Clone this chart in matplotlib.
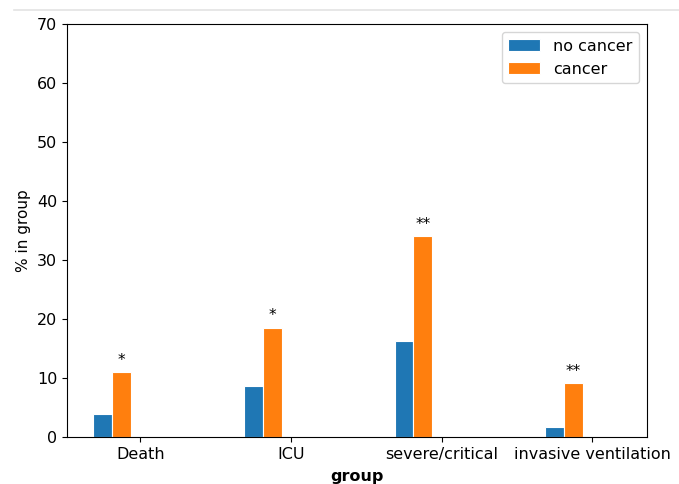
import matplotlib.pyplot as plt
from matplotlib.lines import Line2D
import numpy as np

groups = ['Death', 'ICU', 'severe/critical', 'invasive ventilation']
no_cancer = [3.9, 8.6, 16.3, 1.65]
cancer = [10.9, 18.5, 34.0, 9.05]
stars = ['*', '*', '**', '**']


def main():
    fig = plt.figure(figsize=(6.79, 4.84), dpi=100)
    ax = fig.add_axes([0.0987, 0.098, 0.854, 0.852])

    x = np.arange(len(groups))
    w = 0.125
    ax.bar(x - 0.25, no_cancer, w, color='#1f77b4', edgecolor='white', linewidth=0.8, label='no cancer')
    ax.bar(x - 0.125, cancer, w, color='#ff7f0e', edgecolor='white', linewidth=0.8, label='cancer')

    for xi, v, s in zip(x, cancer, stars):
        ax.text(xi - 0.125, v + 0.7, s, ha='center', va='bottom', fontsize=11)

    ax.set_xticks(x)
    ax.set_xticklabels(groups, fontsize=11.5)
    ax.tick_params(axis='x', pad=4)
    ax.set_xlim(-0.4875, 3.3625)
    ax.set_ylim(0, 70)
    ax.set_yticks(range(0, 71, 10))
    ax.tick_params(axis='y', labelsize=11.5)
    ax.set_xlabel('group', fontweight='bold', fontsize=11.5, labelpad=5)
    ax.set_ylabel('% in group', fontsize=11)
    ax.legend(loc='upper right', fontsize=11.5)

    # faint line across the top of the screenshot
    fig.add_artist(Line2D([0.02, 1.0], [0.979, 0.979], color='#e3e3e3', linewidth=1.2))

    fig.savefig('out.png', dpi=100)


if __name__ == '__main__':
    main()
